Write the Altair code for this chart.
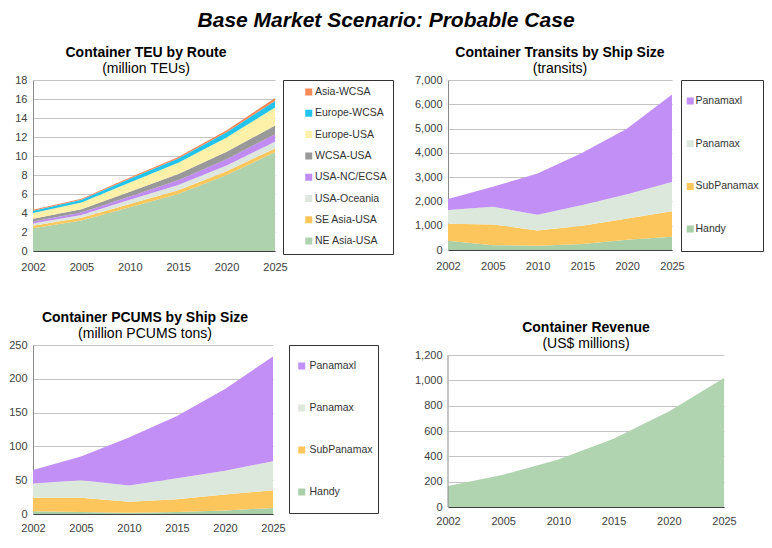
import altair as alt
import pandas as pd

years = ["2002", "2005", "2010", "2015", "2020", "2025"]

# Container TEU by Route (million TEUs), bottom to top of stack
teu_routes = ["NE Asia-USA", "SE Asia-USA", "USA-Oceania", "USA-NC/ECSA",
              "WCSA-USA", "Europe-USA", "Europe-WCSA", "Asia-WCSA"]
teu_ne_asia_usa = [2.4, 3.2, 4.6, 6.0, 8.0, 10.4]
teu_se_asia_usa = [0.25, 0.3, 0.35, 0.4, 0.4, 0.4]
teu_usa_oceania = [0.25, 0.3, 0.45, 0.55, 0.6, 0.7]
teu_usa_nc_ecsa = [0.2, 0.25, 0.35, 0.5, 0.65, 0.8]
teu_wcsa_usa = [0.3, 0.35, 0.5, 0.65, 0.8, 0.9]
teu_europe_usa = [0.6, 0.7, 0.95, 1.2, 1.5, 1.9]
teu_europe_wcsa = [0.25, 0.3, 0.4, 0.45, 0.55, 0.7]
teu_asia_wcsa = [0.1, 0.1, 0.15, 0.15, 0.2, 0.3]
teu_colors = ["#aed2ae", "#fcc75a", "#dde7dd", "#c18cf2",
              "#999999", "#fdf0a8", "#21c4ec", "#f6895a"]
teu_ticks = list(range(0, 19, 2))

# Ship size categories, bottom to top of stack
sizes = ["Handy", "SubPanamax", "Panamax", "Panamaxl"]
size_colors = ["#a9cfa9", "#fcc65c", "#dde8dc", "#c18ff5"]

# Container Transits by Ship Size (transits)
tr_handy = [380, 200, 180, 250, 420, 550]
tr_subpanamax = [700, 850, 620, 750, 880, 1050]
tr_panamax = [570, 730, 650, 850, 1000, 1200]
tr_panamaxl = [450, 820, 1700, 2150, 2700, 3600]
tr_ticks = list(range(0, 7001, 1000))

# Container PCUMS by Ship Size (million PCUMS tons)
pc_handy = [4, 3, 2, 3, 5, 9]
pc_subpanamax = [20, 21, 16, 19, 24, 26]
pc_panamax = [21, 26, 24, 31, 35, 43]
pc_panamaxl = [20, 35, 71, 92, 121, 155]
pc_ticks = list(range(0, 251, 50))

# Container Revenue (US$ millions)
revenue = [165, 255, 375, 540, 755, 1020]
rev_ticks = list(range(0, 1201, 200))

FONT = "Liberation Sans"
XSCALE = alt.Scale(type="point", padding=0)


def to_long(names, arrays):
    rows = []
    for k, (name, arr) in enumerate(zip(names, arrays)):
        for yr, v in zip(years, arr):
            rows.append({"year": yr, "series": name, "value": v, "k": k})
    return pd.DataFrame(rows)


def x_enc(pad=10):
    return alt.X("year:O", scale=XSCALE,
                 axis=alt.Axis(title=None, labelAngle=0, ticks=False,
                               domainColor="#404040", labelPadding=pad))


def panel_title(t, s, dx=0, offset=-2):
    return alt.TitleParams(t, subtitle=s, font=FONT, subtitleFont=FONT,
                           fontSize=14, subtitleFontSize=14, fontWeight="bold",
                           color="black", subtitleColor="black",
                           anchor="middle", frame="group", dx=dx,
                           offset=offset, subtitlePadding=2)


def stacked(df, names, colors, ymax, yvals, fmt, w, h, legend, title, xpad=10):
    return alt.Chart(df, title=title).mark_area(opacity=1).encode(
        x=x_enc(xpad),
        y=alt.Y("value:Q", stack="zero",
                scale=alt.Scale(domain=[0, ymax], nice=False),
                axis=alt.Axis(title=None, values=yvals, format=fmt, ticks=False,
                              labelOverlap=False)),
        color=alt.Color("series:N",
                        scale=alt.Scale(domain=names[::-1], range=colors[::-1]),
                        legend=legend),
        order=alt.Order("k:Q"),
    ).properties(width=w, height=h)


def make_legend(offset, padding, clip, rowpad, symoff, laboff, fs):
    return alt.Legend(title=None, orient="right", offset=offset, padding=padding,
                      strokeColor="#333333", fillColor="white",
                      symbolType="square", symbolSize=49, symbolStrokeWidth=0,
                      labelFont=FONT, labelFontSize=fs, labelColor="#333333",
                      rowPadding=rowpad, clipHeight=clip,
                      symbolOffset=symoff, labelOffset=laboff)


teu_df = to_long(teu_routes, [teu_ne_asia_usa, teu_se_asia_usa, teu_usa_oceania,
                              teu_usa_nc_ecsa, teu_wcsa_usa, teu_europe_usa,
                              teu_europe_wcsa, teu_asia_wcsa])
tr_df = to_long(sizes, [tr_handy, tr_subpanamax, tr_panamax, tr_panamaxl])
pc_df = to_long(sizes, [pc_handy, pc_subpanamax, pc_panamax, pc_panamaxl])
rev_df = pd.DataFrame({"year": years, "value": revenue})
rev_edge_df = pd.DataFrame({"year": [years[0]], "lo": [rev_ticks[0]], "hi": [rev_ticks[-1]]})

p1 = stacked(teu_df, teu_routes, teu_colors, 18, teu_ticks, "d",
             242, 171,
             make_legend(8, 6, 12, 9.3, 14.5, 1, 10.5),
             panel_title("Container TEU by Route", "(million TEUs)", dx=-8))

p2 = stacked(tr_df, sizes, size_colors, 7000, tr_ticks, ",d",
             224, 170,
             make_legend(9, 4, 34, 8.7, 0, 0, 10.5),
             panel_title("Container Transits by Ship Size", "(transits)"))

p3 = stacked(pc_df, sizes, size_colors, 250, pc_ticks, "d",
             240, 169,
             make_legend(16, 5, 32, 10, 2.5, 2.5, 10.5),
             panel_title("Container PCUMS by Ship Size", "(million PCUMS tons)", dx=-8),
             xpad=8)

rev_yaxis = alt.Axis(title=None, values=rev_ticks, format=",d", ticks=False,
                     domain=False, labelOverlap=False)
rev_yscale = alt.Scale(domain=[0, 1280], nice=False)
rev_area = alt.Chart(rev_df).mark_area(color="#b0d3b0", opacity=1).encode(
    x=x_enc(8),
    y=alt.Y("value:Q", scale=rev_yscale, axis=rev_yaxis),
)
rev_edge = alt.Chart(rev_edge_df).mark_rule(color="#8a8a8a").encode(
    x=x_enc(8),
    y=alt.Y("lo:Q", scale=rev_yscale, axis=rev_yaxis),
    y2="hi:Q",
)
p4 = alt.layer(rev_area, rev_edge, title=panel_title(
    "Container Revenue", "(US$ millions)", offset=-6)).properties(width=276, height=162)

chart = alt.concat(p1, p2, p3, p4, columns=2, spacing={"column": 20, "row": 39}).properties(
    title=alt.TitleParams("Base Market Scenario: Probable Case", font=FONT,
                          fontSize=21, fontWeight="bold", fontStyle="italic",
                          color="black", anchor="middle", offset=15),
    padding={"left": 0, "top": 2, "right": 0, "bottom": 0},
).resolve_scale(color="independent").configure_view(stroke=None).configure_axis(
    labelFont=FONT, labelFontSize=11, labelColor="#404040", labelOverlap=False,
    gridColor="#c4c4c4", gridWidth=1, domainColor="#8a8a8a", labelPadding=6,
).configure_axisX(grid=False, domainColor="#404040")

chart.save("out.html", embed_options={"renderer": "svg", "actions": False})
